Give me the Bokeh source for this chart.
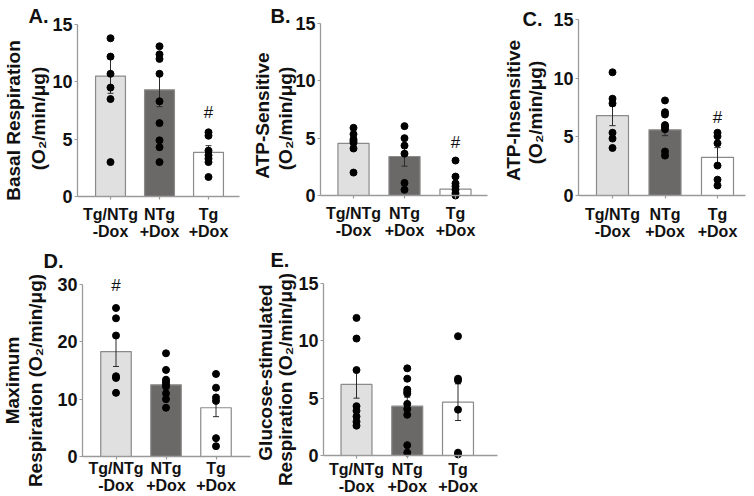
from bokeh.plotting import figure
from bokeh.layouts import column, row
from bokeh.models import Range1d, FixedTicker, Label, ColumnDataSource
from bokeh.embed import file_html
from bokeh.resources import INLINE

# ---------------- data ----------------
groups = ["Tg/NTg\n-Dox", "NTg\n+Dox", "Tg\n+Dox"]
bar_fill = ["#e0e0e0", "#6b6868", "#ffffff"]

# A. Basal respiration
basal_tgntg_nodox = [13.8, 12.2, 10.7, 9.5, 8.5, 3.0]
basal_ntg_dox = [13.1, 12.4, 12.0, 10.7, 8.3, 6.4, 4.9, 4.3, 3.0]
basal_tg_dox = [5.6, 5.3, 4.0, 3.6, 3.3, 3.0, 1.7]
basal_mean = [10.5, 9.3, 3.85]
basal_sem = [1.5, 1.47, 0.58]
basal_sig_y = [None, None, 7.35]      # height of the "#" mark (None = no mark)

# B. ATP-sensitive
atps_tgntg_nodox = [5.9, 5.35, 4.9, 4.75, 4.6, 4.1, 2.0]
atps_ntg_dox = [6.05, 5.0, 4.35, 3.65, 1.1, 0.5]
atps_tg_dox = [3.05, 1.65, 1.05, 0.8, 0.5, 0.2, 0.0]
atps_mean = [4.55, 3.4, 0.55]
atps_sem = [0.45, 0.84, 0.6]
atps_sig_y = [None, None, 4.6]

# C. ATP-insensitive
atpi_tgntg_nodox = [10.5, 8.25, 7.85, 5.35, 4.85, 4.05]
atpi_ntg_dox = [8.1, 7.1, 6.9, 6.0, 5.85, 5.65, 3.75, 3.4]
atpi_tg_dox = [5.35, 5.05, 4.45, 2.55, 1.35, 0.85]
atpi_mean = [6.8, 5.6, 3.25]
atpi_sem = [0.85, 0.5, 0.83]
atpi_sig_y = [None, None, 6.65]

# D. Maximum respiration
max_tgntg_nodox = [25.9, 24.1, 21.1, 14.0, 13.7, 11.1]
max_ntg_dox = [18.0, 15.1, 13.4, 13.0, 12.6, 12.2, 11.0, 10.0, 8.5]
max_tg_dox = [14.4, 12.0, 10.3, 9.7, 3.2, 1.8]
max_mean = [18.3, 12.5, 8.5]
max_sem = [2.6, 1.0, 1.55]
max_sig_y = [29.9, None, None]

# E. Glucose-stimulated respiration
glc_tgntg_nodox = [12.0, 10.2, 7.45, 4.3, 3.9, 3.4, 2.95, 2.6]
glc_ntg_dox = [7.6, 6.7, 5.75, 5.55, 5.4, 4.5, 4.05, 3.55, 0.9, 0.25]
glc_tg_dox = [10.4, 6.7, 6.55, 4.0, 0.25, 0.1]
glc_mean = [6.2, 4.3, 4.65]
glc_sem = [1.2, 0.78, 1.6]
glc_sig_y = [None, None, None]

y_ticks_15 = [0, 5, 10, 15]
y_ticks_30 = [0, 10, 20, 30]

FONT = "Liberation Sans"
AXIS_GREY = "#9a9a9a"
TXT = "#111111"


def make_panel(letter, title1, title2, points, means, sems, sig_y, ymax, yticks, geo):
    # geo: picture-pixel layout of this panel
    fx, fy, w, h = geo["fig"]
    c0, sp = geo["c0"], geo["sp"]           # first bar centre, px between bars
    y0, ytop = geo["y0"], geo["ytop"]       # px of value 0 and of ymax
    ys = (y0 - ytop) / ymax                 # px per unit
    x_start = (fx - c0) / sp
    x_end = (fx + w - c0) / sp
    y_start = -(fy + h - y0) / ys
    y_end = ymax + (ytop - fy) / ys
    ax_x = (geo["yaxis"] - c0) / sp
    ax_xend = (geo["xend"] - c0) / sp

    p = figure(width=w, height=h, output_backend="svg", toolbar_location=None,
               x_range=Range1d(x_start, x_end), y_range=Range1d(y_start, y_end),
               min_border_left=0, min_border_right=0,
               min_border_top=0, min_border_bottom=0)
    p.outline_line_color = None
    p.grid.visible = False
    p.background_fill_color = "white"
    p.border_fill_color = "white"

    def sx(px):
        return px - fx

    def sy(py):
        return fy + h - py

    xs = list(range(len(means)))
    src = ColumnDataSource(dict(x=xs, top=means, fill=bar_fill))
    p.vbar(x="x", top="top", width=0.61, bottom=0, source=src, fill_color="fill",
           line_color="#8a8a8a", line_width=1.2)

    # error bars
    lo = [m - s for m, s in zip(means, sems)]
    hi = [m + s for m, s in zip(means, sems)]
    p.segment(x0=xs, y0=lo, x1=xs, y1=hi, line_color="#2a2a2a", line_width=1)
    p.segment(x0=[x - 0.06 for x in xs], y0=hi, x1=[x + 0.06 for x in xs], y1=hi,
              line_color="#2a2a2a", line_width=1)
    p.segment(x0=[x - 0.06 for x in xs], y0=lo, x1=[x + 0.06 for x in xs], y1=lo,
              line_color="#2a2a2a", line_width=1)

    # individual points
    for i, vals in enumerate(points):
        p.scatter(x=[i] * len(vals), y=vals, size=7, color="black")

    # significance marks
    for i, s in enumerate(sig_y):
        if s is not None:
            p.add_layout(Label(x=i, y=s, text="#",
                               text_font=FONT, text_font_size="17px",
                               text_align="center", text_baseline="middle",
                               text_color=TXT))

    # axes at fixed locations (frame covers whole canvas)
    for ax in (p.xaxis[0], p.yaxis[0]):
        ax.axis_line_color = AXIS_GREY
        ax.axis_line_width = 1.3
        ax.major_tick_line_color = AXIS_GREY
        ax.major_tick_line_width = 1.2
        ax.major_tick_in = 0
        ax.minor_tick_line_color = None
    p.yaxis.fixed_location = ax_x
    p.yaxis.bounds = (0, ymax)
    p.yaxis.ticker = FixedTicker(ticks=yticks)
    p.yaxis.major_tick_out = 3
    p.yaxis.major_label_standoff = 2
    p.yaxis.major_label_text_font = FONT
    p.yaxis.major_label_text_font_style = "bold"
    p.yaxis.major_label_text_font_size = "18px"
    p.yaxis.major_label_text_color = TXT

    p.xaxis.fixed_location = 0
    p.xaxis.bounds = (ax_x, ax_xend)
    p.xaxis.ticker = FixedTicker(ticks=xs)
    p.xaxis.major_tick_out = 3
    p.xaxis.major_label_overrides = {i: g for i, g in enumerate(groups)}
    p.xaxis.major_label_text_font = FONT
    p.xaxis.major_label_text_font_style = "bold"
    p.xaxis.major_label_text_font_size = "16px"
    p.xaxis.major_label_text_line_height = 1.05
    p.xaxis.major_label_text_color = TXT
    p.xaxis.major_label_standoff = geo["xstand"]

    # axis titles (rotated, two lines)
    for txt, pos in ((title1, geo["t1"]), (title2, geo["t2"])):
        p.add_layout(Label(x=sx(pos[0]), y=sy(pos[1]), x_units="screen", y_units="screen",
                           text=txt, angle=90, angle_units="deg",
                           text_font=FONT, text_font_style="bold",
                           text_font_size="19px", text_align="center",
                           text_baseline="middle", text_color=TXT))

    # panel letter
    lp = geo["letter"]
    p.add_layout(Label(x=sx(lp[0]), y=sy(lp[1]), x_units="screen", y_units="screen",
                       text=letter, text_font=FONT, text_font_style="bold",
                       text_font_size="20px", text_align="left",
                       text_baseline="middle", text_color=TXT))
    return p


geoA = dict(fig=(0, 0, 250, 240), c0=110, sp=49, y0=196, ytop=24, yaxis=77, xend=239,
            xstand=6, t1=(13, 120), t2=(38, 118), letter=(28, 15))
geoB = dict(fig=(250, 0, 250, 240), c0=353, sp=51, y0=195, ytop=23, yaxis=320, xend=487,
            xstand=6, t1=(262, 115), t2=(285, 118), letter=(270, 15))
geoC = dict(fig=(500, 0, 254, 240), c0=612, sp=52.5, y0=195, ytop=19, yaxis=578, xend=745,
            xstand=7, t1=(513, 110), t2=(535, 112), letter=(522, 18))
geoD = dict(fig=(0, 240, 252, 256), c0=115.5, sp=50, y0=456, ytop=284, yaxis=82, xend=250,
            xstand=0, t1=(12, 380), t2=(35, 380), letter=(43, 260))
geoE = dict(fig=(252, 240, 250, 256), c0=356, sp=50.75, y0=455, ytop=283, yaxis=323, xend=497,
            xstand=2, t1=(265, 372), t2=(285, 379), letter=(270, 259))

pA = make_panel("A.", "Basal Respiration", "(O\u2082/min/\u03bcg)",
                [basal_tgntg_nodox, basal_ntg_dox, basal_tg_dox],
                basal_mean, basal_sem, basal_sig_y, 15, y_ticks_15, geoA)
pB = make_panel("B.", "ATP-Sensitive", "(O\u2082/min/\u03bcg)",
                [atps_tgntg_nodox, atps_ntg_dox, atps_tg_dox],
                atps_mean, atps_sem, atps_sig_y, 15, y_ticks_15, geoB)
pC = make_panel("C.", "ATP-Insensitive", "(O\u2082/min/\u03bcg)",
                [atpi_tgntg_nodox, atpi_ntg_dox, atpi_tg_dox],
                atpi_mean, atpi_sem, atpi_sig_y, 15, y_ticks_15, geoC)
pD = make_panel("D.", "Maximum", "Respiration (O\u2082/min/\u03bcg)",
                [max_tgntg_nodox, max_ntg_dox, max_tg_dox],
                max_mean, max_sem, max_sig_y, 30, y_ticks_30, geoD)
pE = make_panel("E.", "Glucose-stimulated", "Respiration (O\u2082/min/\u03bcg)",
                [glc_tgntg_nodox, glc_ntg_dox, glc_tg_dox],
                glc_mean, glc_sem, glc_sig_y, 15, y_ticks_15, geoE)

layout = column(row(pA, pB, pC), row(pD, pE))

with open("out.html", "w") as f:
    f.write(file_html(layout, INLINE))
